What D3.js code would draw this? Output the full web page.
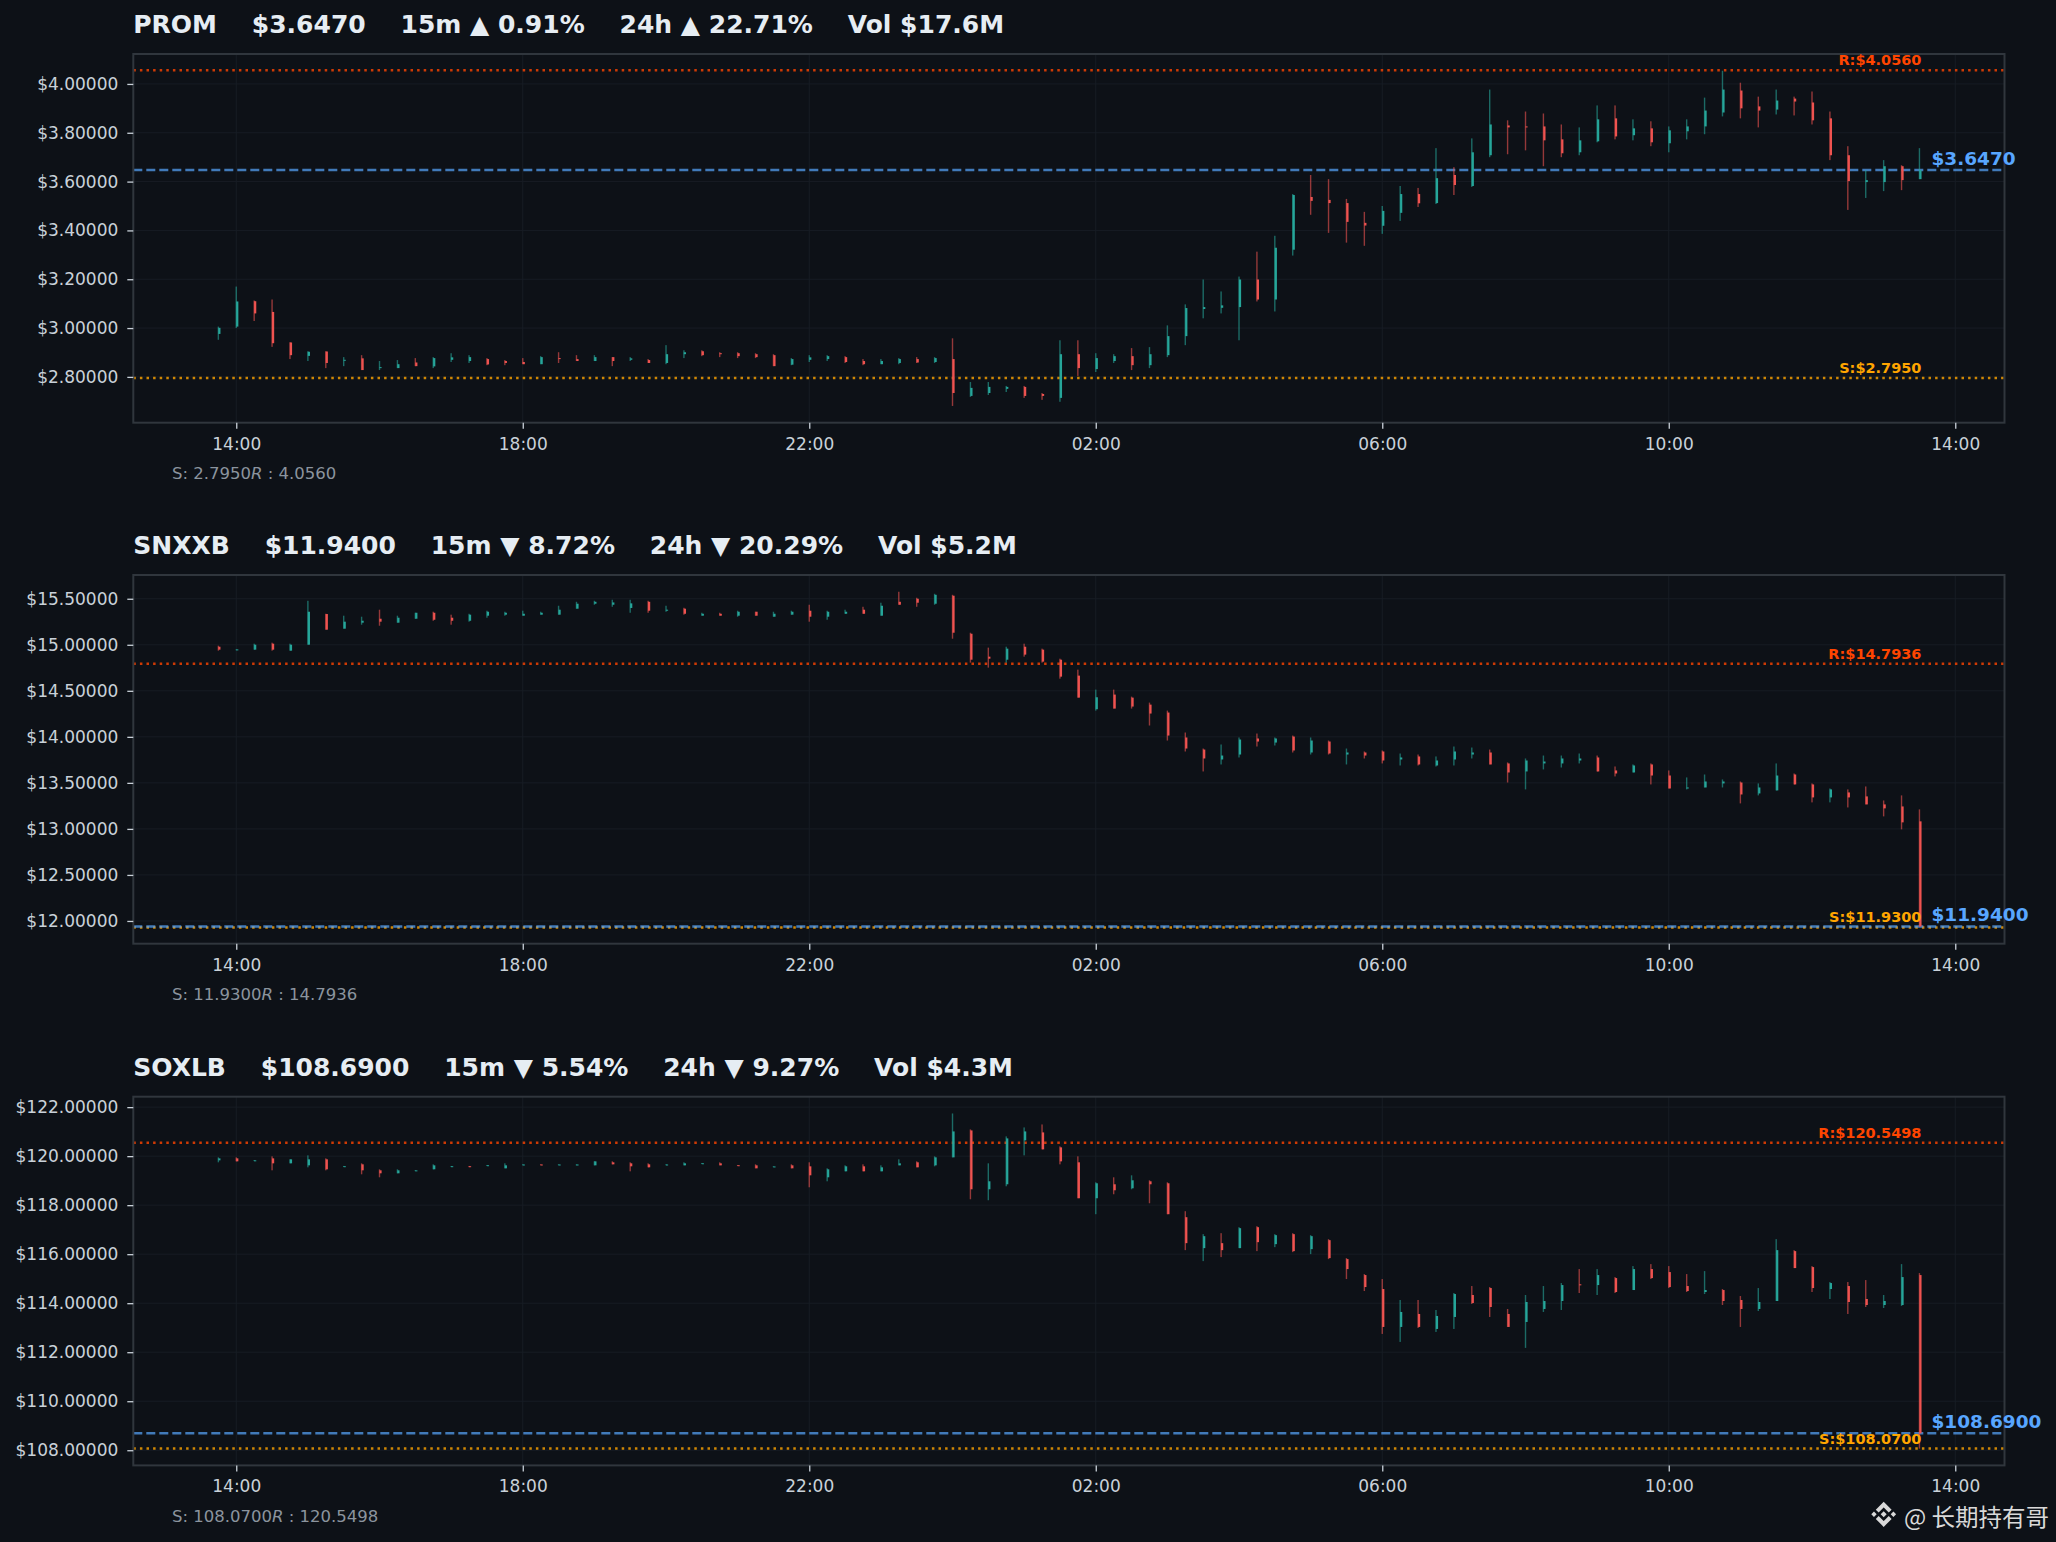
<!DOCTYPE html>
<html>
<head>
<meta charset="utf-8">
<script src="https://cdn.jsdelivr.net/npm/d3@7"></script>
<style>
  html, body { margin: 0; padding: 0; background: #0d1117; }
  svg { display: block; }
  text { font-family: "DejaVu Sans", sans-serif; }
</style>
</head>
<body>
<svg id="chart" width="2056" height="1542"></svg>
<script>
// ---- header / level values ----
const symbols = ["PROM", "SNXXB", "SOXLB"];
const lastPrices = [3.6470, 11.9400, 108.6900];
const change15m = [0.91, -8.72, -5.54];
const change24h = [22.71, -20.29, -9.27];
const volumes = ["$17.6M", "$5.2M", "$4.3M"];
const supports = [2.7950, 11.9300, 108.0700];
const resistances = [4.0560, 14.7936, 120.5498];

// ---- axis ticks ----
const yTicksProm = [2.8, 3.0, 3.2, 3.4, 3.6, 3.8, 4.0];
const yTicksSnxxb = [12.0, 12.5, 13.0, 13.5, 14.0, 14.5, 15.0, 15.5];
const yTicksSoxlb = [108, 110, 112, 114, 116, 118, 120, 122];
const xTickLabels = ["14:00", "18:00", "22:00", "02:00", "06:00", "10:00", "14:00"];

// ---- 15m candles [open, high, low, close], first bar 13:45 ----
const promCandles = [
  [2.976,3.006,2.952,3.001],[3.006,3.170,3.000,3.109],[3.110,3.113,3.029,3.060],[3.066,3.117,2.923,2.938],
  [2.941,2.942,2.873,2.889],[2.886,2.905,2.865,2.903],[2.904,2.905,2.836,2.857],[2.866,2.881,2.844,2.870],
  [2.876,2.889,2.828,2.828],[2.836,2.865,2.828,2.840],[2.836,2.869,2.836,2.852],[2.859,2.877,2.844,2.844],
  [2.843,2.881,2.836,2.877],[2.870,2.897,2.861,2.880],[2.865,2.889,2.857,2.881],[2.873,2.877,2.848,2.851],
  [2.865,2.869,2.848,2.857],[2.861,2.877,2.852,2.852],[2.852,2.885,2.852,2.881],[2.877,2.901,2.857,2.873],
  [2.873,2.889,2.865,2.865],[2.865,2.889,2.865,2.881],[2.881,2.881,2.844,2.865],[2.870,2.881,2.865,2.876],
  [2.869,2.873,2.857,2.857],[2.857,2.930,2.852,2.893],[2.893,2.909,2.877,2.901],[2.905,2.909,2.885,2.889],
  [2.897,2.901,2.881,2.893],[2.897,2.901,2.877,2.885],[2.893,2.897,2.877,2.881],[2.889,2.893,2.844,2.844],
  [2.850,2.877,2.848,2.873],[2.870,2.889,2.861,2.880],[2.873,2.889,2.865,2.885],[2.881,2.885,2.857,2.861],
  [2.865,2.873,2.848,2.852],[2.852,2.873,2.852,2.865],[2.857,2.877,2.852,2.873],[2.873,2.881,2.857,2.859],
  [2.861,2.881,2.857,2.877],[2.873,2.958,2.681,2.734],[2.722,2.779,2.718,2.755],[2.734,2.779,2.726,2.759],
  [2.751,2.763,2.738,2.759],[2.759,2.763,2.714,2.722],[2.730,2.734,2.706,2.722],[2.714,2.950,2.698,2.893],
  [2.893,2.950,2.804,2.836],[2.832,2.897,2.820,2.877],[2.865,2.893,2.857,2.885],[2.885,2.918,2.828,2.848],
  [2.848,2.922,2.836,2.893],[2.889,3.011,2.881,2.967],[2.967,3.097,2.930,3.082],[3.078,3.199,3.040,3.086],
  [3.083,3.150,3.060,3.093],[3.086,3.211,2.950,3.199],[3.199,3.313,3.109,3.117],[3.117,3.378,3.068,3.329],
  [3.321,3.549,3.297,3.545],[3.537,3.627,3.464,3.521],[3.525,3.610,3.390,3.512],[3.512,3.529,3.350,3.435],
  [3.431,3.476,3.337,3.420],[3.419,3.500,3.386,3.480],[3.472,3.582,3.439,3.549],[3.549,3.574,3.496,3.511],
  [3.512,3.737,3.508,3.614],[3.627,3.659,3.545,3.586],[3.582,3.777,3.578,3.720],[3.708,3.977,3.700,3.834],
  [3.830,3.851,3.712,3.822],[3.826,3.887,3.728,3.822],[3.826,3.879,3.663,3.769],[3.773,3.834,3.700,3.716],
  [3.720,3.822,3.708,3.769],[3.765,3.912,3.761,3.855],[3.859,3.912,3.773,3.785],[3.790,3.855,3.769,3.818],
  [3.818,3.847,3.745,3.761],[3.757,3.826,3.720,3.810],[3.806,3.855,3.773,3.826],[3.826,3.944,3.794,3.891],
  [3.883,4.054,3.867,3.977],[3.973,4.005,3.859,3.900],[3.908,3.948,3.822,3.891],[3.895,3.977,3.875,3.932],
  [3.940,3.948,3.871,3.928],[3.924,3.969,3.834,3.851],[3.859,3.887,3.688,3.708],[3.708,3.745,3.484,3.602],
  [3.598,3.647,3.533,3.606],[3.598,3.688,3.561,3.663],[3.663,3.667,3.565,3.606],[3.610,3.737,3.610,3.647]
];

const snxxbCandles = [
  [14.979,14.990,14.936,14.947],[14.947,14.951,14.944,14.950],[14.947,15.012,14.947,15.001],[15.012,15.023,14.936,14.947],
  [14.936,15.012,14.936,15.001],[15.001,15.478,15.001,15.359],[15.334,15.337,15.164,15.164],[15.175,15.316,15.175,15.251],
  [15.240,15.305,15.218,15.261],[15.283,15.381,15.207,15.251],[15.240,15.316,15.240,15.294],[15.283,15.348,15.283,15.348],
  [15.348,15.359,15.261,15.272],[15.294,15.327,15.218,15.261],[15.261,15.337,15.251,15.327],[15.316,15.370,15.294,15.359],
  [15.327,15.359,15.316,15.348],[15.316,15.370,15.316,15.337],[15.327,15.359,15.327,15.348],[15.327,15.424,15.327,15.381],
  [15.392,15.467,15.392,15.446],[15.446,15.478,15.435,15.467],[15.435,15.489,15.413,15.460],[15.400,15.489,15.348,15.450],
  [15.467,15.478,15.348,15.370],[15.370,15.424,15.359,15.381],[15.392,15.402,15.327,15.337],[15.316,15.348,15.316,15.337],
  [15.337,15.348,15.316,15.316],[15.316,15.370,15.305,15.359],[15.359,15.359,15.316,15.316],[15.305,15.359,15.305,15.337],
  [15.327,15.370,15.327,15.359],[15.370,15.435,15.251,15.305],[15.305,15.370,15.272,15.359],[15.337,15.381,15.337,15.359],
  [15.381,15.413,15.337,15.337],[15.316,15.457,15.316,15.424],[15.467,15.576,15.435,15.435],[15.500,15.511,15.413,15.457],
  [15.446,15.554,15.435,15.543],[15.533,15.543,15.066,15.131],[15.120,15.131,14.806,14.838],[14.871,14.969,14.752,14.849],
  [14.838,14.979,14.806,14.958],[14.979,15.012,14.871,14.893],[14.947,14.958,14.806,14.817],[14.838,14.849,14.632,14.654],
  [14.665,14.730,14.426,14.426],[14.300,14.513,14.285,14.430],[14.459,14.513,14.307,14.307],[14.426,14.437,14.307,14.329],
  [14.350,14.372,14.123,14.253],[14.264,14.285,13.960,14.014],[13.993,14.047,13.841,13.873],[13.862,13.873,13.624,13.765],
  [13.754,13.917,13.700,13.797],[13.808,13.993,13.776,13.971],[13.982,14.036,13.895,13.949],[13.938,13.993,13.906,13.982],
  [14.003,14.014,13.830,13.852],[13.830,13.993,13.808,13.960],[13.949,13.960,13.808,13.819],[13.808,13.873,13.700,13.830],
  [13.830,13.841,13.765,13.797],[13.841,13.852,13.711,13.743],[13.754,13.819,13.689,13.776],[13.787,13.808,13.689,13.700],
  [13.689,13.787,13.678,13.743],[13.754,13.895,13.689,13.841],[13.808,13.884,13.765,13.830],[13.830,13.862,13.700,13.700],
  [13.711,13.722,13.504,13.613],[13.624,13.765,13.429,13.743],[13.711,13.797,13.646,13.732],[13.711,13.797,13.667,13.765],
  [13.743,13.819,13.711,13.765],[13.776,13.797,13.624,13.624],[13.635,13.678,13.570,13.602],[13.613,13.700,13.613,13.689],
  [13.700,13.711,13.483,13.580],[13.580,13.635,13.439,13.439],[13.439,13.559,13.429,13.450],[13.450,13.591,13.450,13.515],
  [13.494,13.537,13.450,13.515],[13.504,13.515,13.277,13.374],[13.385,13.494,13.364,13.450],[13.418,13.711,13.418,13.580],
  [13.591,13.602,13.483,13.483],[13.483,13.494,13.288,13.342],[13.342,13.439,13.288,13.429],[13.396,13.429,13.233,13.342],
  [13.353,13.461,13.266,13.266],[13.266,13.309,13.136,13.223],[13.244,13.364,12.995,13.071],[13.082,13.212,11.935,11.940]
];

const soxlbCandles = [
  [119.829,119.951,119.748,119.910],[119.910,119.951,119.788,119.788],[119.81,119.84,119.80,119.83],[119.910,119.992,119.422,119.707],
  [119.707,119.870,119.707,119.870],[119.625,120.032,119.544,119.870],[119.870,119.910,119.422,119.463],[119.57,119.60,119.56,119.59],
  [119.666,119.707,119.259,119.422],[119.422,119.463,119.137,119.300],[119.300,119.463,119.300,119.422],[119.40,119.43,119.39,119.42],
  [119.463,119.666,119.463,119.625],[119.57,119.60,119.56,119.59],[119.59,119.60,119.55,119.56],[119.61,119.64,119.60,119.63],
  [119.503,119.707,119.503,119.625],[119.64,119.67,119.63,119.66],[119.66,119.67,119.63,119.64],[119.64,119.67,119.63,119.66],
  [119.63,119.67,119.62,119.66],[119.625,119.790,119.625,119.788],[119.748,119.788,119.666,119.666],[119.707,119.748,119.381,119.585],
  [119.666,119.707,119.544,119.544],[119.64,119.67,119.63,119.66],[119.625,119.748,119.625,119.707],[119.69,119.72,119.68,119.71],
  [119.707,119.748,119.625,119.625],[119.63,119.64,119.60,119.61],[119.625,119.666,119.503,119.503],[119.56,119.59,119.55,119.58],
  [119.625,119.666,119.503,119.503],[119.585,119.748,118.730,119.218],[119.137,119.503,118.974,119.463],[119.381,119.625,119.381,119.585],
  [119.585,119.666,119.381,119.381],[119.381,119.625,119.381,119.544],[119.625,119.870,119.625,119.707],[119.748,119.788,119.544,119.544],
  [119.625,119.992,119.585,119.951],[119.951,121.742,119.951,121.009],[121.050,121.091,118.241,118.648],[118.648,119.707,118.201,118.974],
  [118.852,120.806,118.771,120.725],[120.643,121.172,120.033,121.009],[120.969,121.294,120.277,120.277],[120.358,120.399,119.666,119.788],
  [119.748,119.992,118.282,118.282],[118.282,118.933,117.631,118.893],[118.852,119.137,118.445,118.608],[118.689,119.218,118.648,119.015],
  [118.974,119.015,118.078,118.852],[118.893,118.933,117.631,117.631],[117.509,117.753,116.165,116.450],[116.247,116.817,115.717,116.735],
  [116.450,116.857,115.880,116.165],[116.247,117.101,116.247,117.061],[117.101,117.142,116.125,116.491],[116.410,116.817,116.287,116.776],
  [116.817,116.857,116.084,116.125],[116.206,116.776,116.003,116.735],[116.572,116.613,115.799,115.840],[115.799,115.840,114.985,115.392],
  [115.148,115.188,114.496,114.659],[114.578,114.985,112.746,113.031],[113.031,114.130,112.420,113.642],[113.560,114.130,112.990,113.031],
  [112.949,113.723,112.827,113.479],[113.438,114.415,112.949,114.374],[114.334,114.700,113.967,114.008],[114.618,114.659,113.438,113.845],
  [113.560,113.764,113.031,113.031],[113.234,114.334,112.176,114.049],[113.764,114.700,113.642,114.089],[114.089,114.822,113.723,114.740],
  [114.770,115.392,114.415,114.740],[114.740,115.392,114.334,115.148],[115.025,115.066,114.415,114.456],[114.537,115.514,114.537,115.392],
  [115.392,115.595,114.985,115.025],[115.270,115.514,114.618,114.659],[114.700,115.188,114.456,114.496],[114.456,115.310,114.374,114.537],
  [114.537,114.578,113.926,114.089],[114.130,114.293,113.031,113.764],[113.764,114.618,113.682,114.049],[114.089,116.613,114.089,116.165],
  [116.125,116.165,115.433,115.433],[115.473,115.514,114.456,114.618],[114.578,114.863,114.171,114.822],[114.700,114.863,113.560,114.049],
  [114.171,114.944,113.845,113.926],[113.926,114.334,113.804,114.089],[113.926,115.595,113.886,115.066],[115.148,115.229,108.065,108.690]
];

const candleSets = [promCandles, snxxbCandles, soxlbCandles];
const yTickSets = [yTicksProm, yTicksSnxxb, yTicksSoxlb];

// ---- layout ----
const W = 2056, H = 1542;
const plotLeft = 133.3, plotRight = 2004.5;
const plotTops = [54, 575, 1096.7];
const plotHeight = 368.7;

const colors = {
  bg: "#0d1117",
  text: "#e6edf3",
  tick: "#c9d1d9",
  muted: "#8b949e",
  spine: "#30363d",
  grid: "#171c24",
  up: "#26a69a",
  down: "#ef5350",
  resist: "#ff4500",
  support: "#ffa500",
  last: "#58a6ff"
};

const svg = d3.select("#chart");
svg.append("rect").attr("width", W).attr("height", H).attr("fill", colors.bg);

// time axis shared by all panels
const barMs = 15 * 60 * 1000;
const t0 = Date.UTC(2025, 5, 1, 13, 45);
const nBars = promCandles.length;
const times = d3.range(nBars).map(i => new Date(t0 + i * barMs));
const spanMs = times[nBars - 1] - times[0];
const x = d3.scaleUtc()
  .domain([new Date(+times[0] - 0.05 * spanMs), new Date(+times[nBars - 1] + 0.05 * spanMs)])
  .range([plotLeft, plotRight]);
const xTickDates = xTickLabels.map((d, i) => new Date(Date.UTC(2025, 5, 1, 14) + i * 4 * 3600 * 1000));
const lastX = x(times[nBars - 1]);

function fmtPct(v) {
  return (v >= 0 ? "\u25B2 " : "\u25BC ") + Math.abs(v).toFixed(2) + "%";
}

symbols.forEach((sym, p) => {
  const candles = candleSets[p];
  const top = plotTops[p], bottom = top + plotHeight;
  const lo = d3.min(candles, d => d[2]), hi = d3.max(candles, d => d[1]);
  const pad = (hi - lo) * 0.05;
  const y = d3.scaleLinear().domain([lo - pad, hi + pad]).range([bottom, top]);

  const g = svg.append("g");

  // grid
  g.append("g").selectAll("line").data(yTickSets[p]).join("line")
    .attr("x1", plotLeft).attr("x2", plotRight)
    .attr("y1", d => y(d)).attr("y2", d => y(d))
    .attr("stroke", colors.grid).attr("stroke-width", 1);
  g.append("g").selectAll("line").data(xTickDates).join("line")
    .attr("x1", d => x(d)).attr("x2", d => x(d))
    .attr("y1", top).attr("y2", bottom)
    .attr("stroke", colors.grid).attr("stroke-width", 1);

  // level lines
  g.append("line")
    .attr("x1", plotLeft).attr("x2", plotRight)
    .attr("y1", y(resistances[p])).attr("y2", y(resistances[p]))
    .attr("stroke", colors.resist).attr("stroke-opacity", 0.8)
    .attr("stroke-width", 2.5).attr("stroke-dasharray", "2.5 4.1");
  g.append("line")
    .attr("x1", plotLeft).attr("x2", plotRight)
    .attr("y1", y(supports[p])).attr("y2", y(supports[p]))
    .attr("stroke", colors.support).attr("stroke-opacity", 0.8)
    .attr("stroke-width", 2.5).attr("stroke-dasharray", "2.5 4.1");
  g.append("line")
    .attr("x1", plotLeft).attr("x2", plotRight)
    .attr("y1", y(lastPrices[p])).attr("y2", y(lastPrices[p]))
    .attr("stroke", colors.last).attr("stroke-opacity", 0.7)
    .attr("stroke-width", 2.5).attr("stroke-dasharray", "9 4");

  // candles
  const cg = g.append("g").selectAll("g").data(candles).join("g");
  cg.append("rect")
    .attr("x", (d, i) => x(times[i]) - 0.7)
    .attr("width", 1.4)
    .attr("y", d => y(d[1]))
    .attr("height", d => Math.max(1, y(d[2]) - y(d[1])))
    .attr("fill", d => d[3] >= d[0] ? colors.up : colors.down)
    .attr("fill-opacity", 0.6);
  cg.append("rect")
    .attr("x", (d, i) => x(times[i]) - 0.1)
    .attr("width", 2.2)
    .attr("y", d => y(Math.max(d[0], d[3])))
    .attr("height", d => Math.max(1, Math.abs(y(d[0]) - y(d[3]))))
    .attr("fill", d => d[3] >= d[0] ? colors.up : colors.down);

  // spines
  g.append("rect")
    .attr("x", plotLeft).attr("y", top)
    .attr("width", plotRight - plotLeft).attr("height", plotHeight)
    .attr("fill", "none").attr("stroke", colors.spine).attr("stroke-width", 2);

  // axes
  const yAxis = g.append("g")
    .attr("transform", `translate(${plotLeft},0)`)
    .call(d3.axisLeft(y).tickValues(yTickSets[p]).tickSize(6).tickPadding(9)
      .tickFormat(d => "$" + d3.format(".5f")(d)));
  const xAxis = g.append("g")
    .attr("transform", `translate(0,${bottom})`)
    .call(d3.axisBottom(x).tickValues(xTickDates).tickSize(6).tickPadding(9)
      .tickFormat((d, i) => xTickLabels[i]));
  [yAxis, xAxis].forEach(a => {
    a.select(".domain").remove();
    a.selectAll(".tick line").attr("stroke", colors.tick).attr("stroke-width", 1.3);
    a.selectAll(".tick text").attr("fill", colors.tick)
      .style("font-family", "DejaVu Sans").style("font-size", "17px");
  });

  // level labels
  g.append("text")
    .attr("x", lastX + 2).attr("y", y(resistances[p]) - 5)
    .attr("text-anchor", "end").attr("fill", colors.resist)
    .style("font-size", "14.5px").style("font-weight", "bold")
    .text("R:$" + resistances[p].toFixed(4));
  g.append("text")
    .attr("x", lastX + 2).attr("y", y(supports[p]) - 5)
    .attr("text-anchor", "end").attr("fill", colors.support)
    .style("font-size", "14.5px").style("font-weight", "bold")
    .text("S:$" + supports[p].toFixed(4));
  g.append("text")
    .attr("x", lastX + 12).attr("y", y(lastPrices[p]) - 5)
    .attr("fill", colors.last)
    .style("font-size", "18.5px").style("font-weight", "bold")
    .text("$" + lastPrices[p].toFixed(4));

  // header
  g.append("text")
    .attr("x", plotLeft).attr("y", top - 20.7)
    .attr("fill", colors.text)
    .style("font-size", "25px").style("font-weight", "bold")
    .style("white-space", "pre")
    .text(`${sym}    $${lastPrices[p].toFixed(4)}    15m ${fmtPct(change15m[p])}    24h ${fmtPct(change24h[p])}    Vol ${volumes[p]}`);

  // footnote
  const fn = g.append("text")
    .attr("x", 172).attr("y", bottom + 56.7)
    .attr("fill", colors.muted)
    .style("font-size", "16.5px")
    .style("white-space", "pre");
  fn.append("tspan").text("S: " + supports[p].toFixed(4));
  fn.append("tspan").style("font-style", "italic").text("R");
  fn.append("tspan").text(" : " + resistances[p].toFixed(4));
});

// watermark
const wm = svg.append("g").attr("transform", "translate(1883.7,1514.3)");
const r = 13.5;
const diamond = (cx, s) => `M${cx},${-s} L${cx + s},0 L${cx},${s} L${cx - s},0 Z`;
wm.append("path").attr("d", diamond(0, 0.22 * r) + diamond(-0.72 * r, 0.2 * r) + diamond(0.72 * r, 0.2 * r))
  .attr("fill", "#d9d9d9");
wm.append("path")
  .attr("d", `M${-0.48 * r},${-0.24 * r} L0,${-0.72 * r} L${0.48 * r},${-0.24 * r}` +
             `M${-0.48 * r},${0.24 * r} L0,${0.72 * r} L${0.48 * r},${0.24 * r}`)
  .attr("fill", "none").attr("stroke", "#d9d9d9").attr("stroke-width", 0.3 * r);
svg.append("text")
  .attr("x", 1904).attr("y", 1526)
  .attr("fill", "#d9d9d9")
  .style("font-family", "'Noto Sans CJK SC', 'DejaVu Sans', sans-serif")
  .style("font-size", "23.5px")
  .text("@ 长期持有哥");
</script>
</body>
</html>
